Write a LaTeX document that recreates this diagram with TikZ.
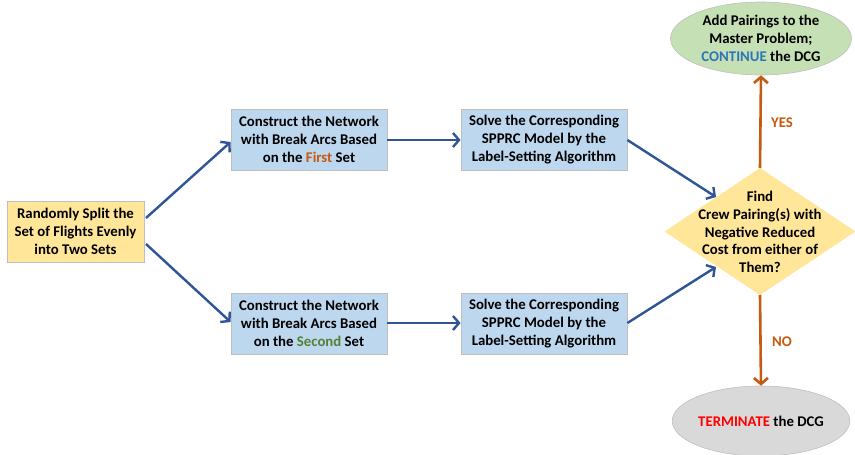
\documentclass[tikz,border=0pt]{standalone}
\usepackage{fontspec}
\setmainfont{Carlito}
\usetikzlibrary{arrows.meta,shapes.geometric}
\definecolor{boxblue}{HTML}{BDD7EE}
\definecolor{boxyellow}{HTML}{FFE699}
\definecolor{ellgreen}{HTML}{C5E0B4}
\definecolor{ellgray}{HTML}{D9D9D9}
\definecolor{flowblue}{HTML}{2F5597}
\definecolor{flowor}{HTML}{C55A11}
\definecolor{txtgreen}{HTML}{548235}
\definecolor{txtblue}{HTML}{2E75B6}
\definecolor{edgegray}{HTML}{BFBFBF}
\tikzset{
  base/.style={font=\fontsize{14.8}{17.7}\selectfont\bfseries, align=center, inner sep=0pt},
  stepbox/.style={base, draw=edgegray, line width=0.8pt, minimum width=156pt, minimum height=61pt},
  bluearrow/.style={draw=flowblue, line width=2.4pt, -{Straight Barb[length=6pt,width=14pt,line width=2.4pt]}},
  orarrow/.style={draw=flowor, line width=2.6pt, -{Straight Barb[length=6pt,width=14pt,line width=2.6pt]}},
  lbl/.style={font=\fontsize{14.8}{16}\selectfont\bfseries, text=flowor}
}
\begin{document}
\begin{tikzpicture}[x=1pt,y=-1pt]
\useasboundingbox[fill=white] (0,0) rectangle (855,455);

% process boxes
\node[stepbox, fill=boxyellow, minimum width=137pt] (split) at (75.5,231.5)
  {Randomly Split the\\Set of Flights Evenly\\into Two Sets};
\node[stepbox, fill=boxblue] (net1) at (309,139.5)
  {Construct the Network\\with Break Arcs Based\\on the \textcolor{flowor}{First} Set};
\node[stepbox, fill=boxblue] (net2) at (309,323.5)
  {Construct the Network\\with Break Arcs Based\\on the \textcolor{txtgreen}{Second} Set};
\node[stepbox, fill=boxblue, minimum width=166pt] (sol1) at (544,139.5)
  {Solve the Corresponding\\SPPRC Model by the\\Label-Setting Algorithm};
\node[stepbox, fill=boxblue, minimum width=166pt] (sol2) at (544,323.5)
  {Solve the Corresponding\\SPPRC Model by the\\Label-Setting Algorithm};

% decision diamond, drawn from its four corners
\coordinate (dT) at (760,168);
\coordinate (dR) at (855.5,231.5);
\coordinate (dB) at (760,295);
\coordinate (dL) at (664.5,231.5);
\fill[boxyellow] (dT) -- (dR) -- (dB) -- (dL) -- cycle;
\node[base] (dec) at (760,232)
  {Find\\Crew Pairing(s) with\\Negative Reduced\\Cost from either of\\Them?};

% terminals
\node[base, ellipse, fill=ellgreen, draw=edgegray, line width=0.6pt, minimum width=181pt, minimum height=73pt] (cont) at (761,38.5)
  {Add Pairings to the\\Master Problem;\\\textcolor{txtblue}{CONTINUE} the DCG};
\node[base, ellipse, fill=ellgray, draw=edgegray, line width=0.6pt, minimum width=152pt, minimum height=70pt] (term) at (761,421)
  {\textcolor{red}{TERMINATE} the DCG};

% connectors
\coordinate (s1) at (146,218);
\coordinate (s2) at (146,244);
\draw[bluearrow] (s1) -- (net1.west |- 0,142);
\draw[bluearrow] (s2) -- (net2.west |- 0,322);
\draw[bluearrow] (net1.east |- 0,140) -- (sol1.west |- 0,140);
\draw[bluearrow] (net2.east |- 0,323) -- (sol2.west |- 0,323);
\coordinate (d1) at (716,197);
\coordinate (d2) at (716,267);
\draw[bluearrow] (sol1.east |- 0,140) -- (d1);
\draw[bluearrow] (sol2.east |- 0,323) -- (d2);
\draw[orarrow] (dT) -- (cont.south);
\draw[orarrow] (dB) -- (term.north);
\node[lbl] (yes) at (782,123) {YES};
\node[lbl] (no) at (782,342) {NO};
\end{tikzpicture}
\end{document}
